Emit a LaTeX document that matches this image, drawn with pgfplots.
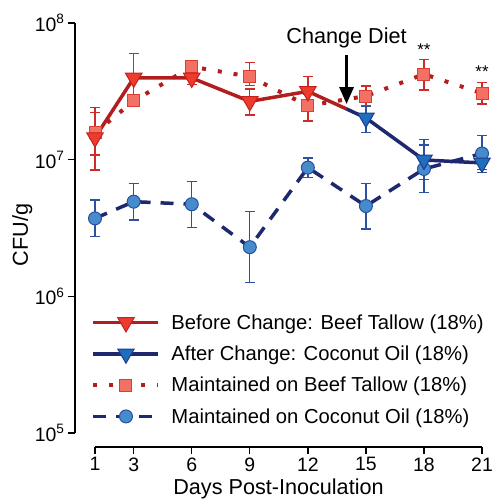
\documentclass[border=0pt]{standalone}
\usepackage{pgfplots}
\pgfplotsset{compat=1.18}
\usepackage{fontspec}
\setmainfont{Liberation Sans}
\usetikzlibrary{arrows.meta}
\definecolor{lineRed}{RGB}{178,30,30}
\definecolor{triFill}{RGB}{235,60,45}
\definecolor{triEdge}{RGB}{200,30,30}
\definecolor{sqFill}{RGB}{242,112,100}
\definecolor{sqEdge}{RGB}{225,60,50}
\definecolor{errRed}{RGB}{205,45,40}
\definecolor{navy}{RGB}{30,40,110}
\definecolor{btriFill}{RGB}{30,110,190}
\definecolor{btriEdge}{RGB}{30,60,140}
\definecolor{circFill}{RGB}{70,140,205}
\definecolor{circEdge}{RGB}{40,80,160}
\definecolor{errBlue}{RGB}{45,80,160}
\newcommand\bigf{\fontsize{21.7}{24}\selectfont}
\newcommand\legf{\fontsize{20.3}{22}\selectfont}
\newcommand\tickf{\fontsize{19.5}{21}\selectfont}
\pgfplotsset{
  ebRed/.style={only marks, mark=none, forget plot, error bars/.cd, y dir=both, y explicit,
    error bar style={line width=1.3bp, errRed},
    error mark options={rotate=90, mark size=5bp, line width=1.3bp, errRed}},
  ebBlue/.style={only marks, mark=none, forget plot, error bars/.cd, y dir=both, y explicit,
    error bar style={line width=1.3bp, errBlue},
    error mark options={rotate=90, mark size=5bp, line width=1.3bp, errBlue}},
}
\pgfplotstableread{
x y ep em
1 3.72e6 1.35e6 0.98e6
3 4.93e6 1.79e6 1.31e6
6 4.72e6 2.18e6 1.54e6
9 2.29e6 1.88e6 1.02e6
12 8.75e6 1.55e6 1.37e6
15 4.58e6 2.13e6 1.47e6
18 8.55e6 4.25e6 2.77e6
21 1.11e7 3.9e6 2.6e6
}\coco
\pgfplotstableread{
x y ep em
1 1.57e7 0.64e7 0.49e7
3 2.69e7 0.31e7 0.24e7
6 4.79e7 0.41e7 0.39e7
9 4.05e7 1.1e7 0.55e7
12 2.48e7 0.52e7 0.56e7
15 2.92e7 0.54e7 0.42e7
18 4.22e7 1.2e7 0.98e7
21 3.06e7 0.6e7 0.51e7
}\beef
\pgfplotstableread{
x y ep em
1 1.45e7 0.95e7 0.61e7
3 3.96e7 2.04e7 1.16e7
6 3.96e7 0.4e7 0.4e7
9 2.67e7 0.62e7 0.55e7
12 3.16e7 0.89e7 0.56e7
}\before
\pgfplotstableread{
x y ep em
15 2.02e7 0.42e7 0.44e7
18 9.95e6 4.15e6 2.75e6
21 9.47e6 1.5e6 1.43e6
}\after
\begin{document}
\begin{tikzpicture}
\begin{axis}[name=ax, scale only axis, width=407bp, height=424bp,
  xmin=-0.034, xmax=21, ymode=log, ymin=7.91e4, ymax=1e8,
  axis x line*=bottom, axis y line*=left,
  x axis line style={-, shorten <=20bp, line width=1.3bp},
  y axis line style={-, shorten <=14bp, line width=1.3bp},
  xtick={1,3,6,9,12,15,18,21},
  ytick={1e5,1e6,1e7,1e8},
  yticklabels={10\textsuperscript{5},10\textsuperscript{6},10\textsuperscript{7},10\textsuperscript{8}},
  yminorticks=false, xminorticks=false,
  tick align=outside, major tick length=7bp,
  tick style={line width=1.3bp, black},
  tick label style={font=\tickf},
  /pgf/number format/assume math mode=true,
  xlabel={Days Post-Inoculation},
  xlabel style={font=\bigf, at={(axis description cs:0.5,-0.111)}, anchor=base},
  ylabel={CFU/g},
  ylabel style={font=\bigf, at={(axis description cs:-0.1155,0.5)}, anchor=base},
  legend image code/.code={\draw[mark repeat=2,mark phase=2,#1] plot coordinates {(0bp,0bp) (32.5bp,0bp) (65bp,0bp)};},
  legend style={at={(axis description cs:0.04,0.318)}, anchor=north west, draw=none, fill=none, font=\legf, inner sep=0pt, row sep=11.2bp, column sep=9bp},
  legend cell align=left,
  clip=false,
]
% lines
\addplot[navy, line width=3.5bp, dash pattern=on 13bp off 10bp, forget plot] table[x=x,y=y] {\coco};
\addplot[lineRed, line width=4bp, dash pattern=on 4bp off 12bp, forget plot] table[x=x,y=y] {\beef};
\addplot[lineRed, line width=3.5bp, forget plot] coordinates {
(1,1.45e7) (3,3.96e7) (6,3.96e7) (9,2.67e7) (12,3.16e7) (14,2.35e7)};
\addplot[navy, line width=3.5bp, forget plot] coordinates {
(14,2.35e7) (15,2.02e7) (18,9.95e6) (21,9.47e6)};
% error bars
\addplot[ebBlue] table[x=x,y=y,y error plus=ep,y error minus=em] {\coco};
\addplot[ebRed] table[x=x,y=y,y error plus=ep,y error minus=em] {\beef};
\addplot[ebRed] table[x=x,y=y,y error plus=ep,y error minus=em] {\before};
\addplot[ebBlue] table[x=x,y=y,y error plus=ep,y error minus=em] {\after};
% marks
\addplot[only marks, mark=*, mark size=6.5bp, mark options={fill=circFill, draw=circEdge, line width=1bp}, forget plot] table[x=x,y=y] {\coco};
\addplot[only marks, mark=square*, mark size=6bp, mark options={fill=sqFill, draw=sqEdge, line width=1bp}, forget plot] table[x=x,y=y] {\beef};
\addplot[only marks, mark=triangle*, mark size=9.5bp, mark options={rotate=180, fill=triFill, draw=triEdge, line width=1bp}, forget plot] table[x=x,y=y] {\before};
\addplot[only marks, mark=triangle*, mark size=9.5bp, mark options={rotate=180, fill=btriFill, draw=btriEdge, line width=1bp}, forget plot] table[x=x,y=y] {\after};
% legend
\addlegendimage{lineRed, line width=3.5bp, mark=triangle*, mark size=9.5bp, mark options={rotate=180, fill=triFill, draw=triEdge, line width=1bp}}
\addlegendentry{Before Change: Beef Tallow (18\%)}
\addlegendimage{navy, line width=3.5bp, mark=triangle*, mark size=9.5bp, mark options={rotate=180, fill=btriFill, draw=btriEdge, line width=1bp}}
\addlegendentry{After Change: Coconut Oil (18\%)}
\addlegendimage{lineRed, line width=4bp, dash pattern=on 4bp off 12bp, mark=square*, mark size=6bp, mark options={solid, fill=sqFill, draw=sqEdge, line width=1bp}}
\addlegendentry{Maintained on Beef Tallow (18\%)}
\addlegendimage{navy, line width=3.5bp, dash pattern=on 13bp off 10bp, mark=*, mark size=6.5bp, mark options={solid, fill=circFill, draw=circEdge, line width=1bp}}
\addlegendentry{Maintained on Coconut Oil (18\%)}
% annotations
\node[font=\bigf, anchor=base] at (axis cs:14,7.1e7) {Change Diet};
\draw[line width=3bp, -{Triangle[length=17bp,width=14bp]}] (axis cs:14,5.83e7) -- (axis cs:14,2.55e7);
\node[font=\fontsize{17}{17}\selectfont] at (axis cs:18,6.39e7) {**};
\node[font=\fontsize{17}{17}\selectfont] at (axis cs:21,4.4e7) {**};
\end{axis}
\pgfresetboundingbox
\path (ax.south west) ++(-75bp,-52bp) rectangle ++(492bp,499bp);
\end{tikzpicture}
\end{document}
